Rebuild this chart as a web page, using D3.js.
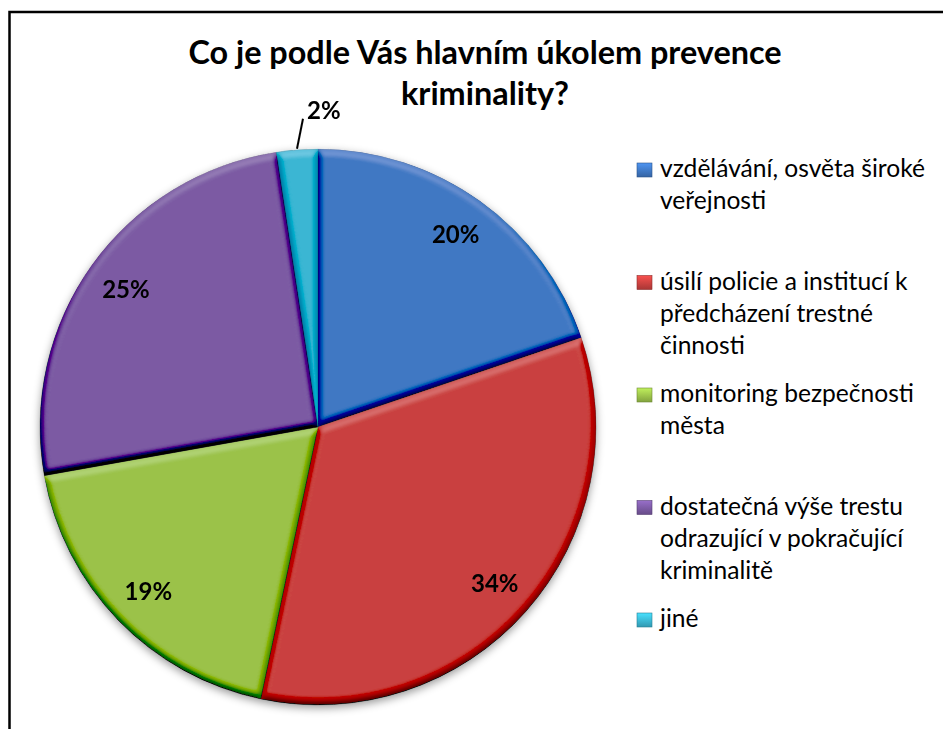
<!DOCTYPE html>
<html>
<head>
<meta charset="utf-8">
<script src="https://cdn.jsdelivr.net/npm/d3@7"></script>
<style>
  body { margin: 0; background: #fff; }
  svg { display: block; font-family: Lato, "Open Sans", sans-serif; }
</style>
</head>
<body>
<div id="chart"></div>
<script>
var width = 943;
var height = 729;

// data
var categories = [
  ["vzdělávání, osvěta široké", "veřejnosti"],
  ["úsilí policie a institucí k", "předcházení trestné", "činnosti"],
  ["monitoring bezpečnosti", "města"],
  ["dostatečná výše trestu", "odrazující v pokračující", "kriminalitě"],
  ["jiné"]
];
var values = [19.8, 33.5, 18.9, 25.4, 2.4];
var labels = ["20%", "34%", "19%", "25%", "2%"];
var colors = ["#3f78c3", "#c9413f", "#9bc24a", "#7b5aa3", "#3bb6d3"];
var titleLines = ["Co je podle Vás hlavním úkolem prevence", "kriminality?"];

var cx = 318, cy = 427, R = 278;

var svg = d3.select("#chart").append("svg")
    .attr("width", width)
    .attr("height", height);

var defs = svg.append("defs");

// bevel look of the office pie
var bevel = defs.append("filter").attr("id", "bevel")
    .attr("x", "-5%").attr("y", "-5%").attr("width", "110%").attr("height", "110%");
bevel.append("feGaussianBlur").attr("in", "SourceAlpha").attr("stdDeviation", 3.5).attr("result", "blur");
bevel.append("feDiffuseLighting").attr("in", "blur").attr("surfaceScale", 5)
    .attr("diffuseConstant", 1).attr("lighting-color", "#fff").attr("result", "light")
  .append("feDistantLight").attr("azimuth", 270).attr("elevation", 60);
bevel.append("feComposite").attr("in", "SourceGraphic").attr("in2", "light")
    .attr("operator", "arithmetic").attr("k1", 0).attr("k2", 1).attr("k3", 0.75).attr("k4", -0.65)
    .attr("result", "lit");
bevel.append("feComposite").attr("in", "lit").attr("in2", "SourceAlpha").attr("operator", "in");

var shadow = defs.append("filter").attr("id", "shadow")
    .attr("x", "-10%").attr("y", "-10%").attr("width", "120%").attr("height", "120%");
shadow.append("feDropShadow").attr("dx", 0).attr("dy", 3).attr("stdDeviation", 4)
    .attr("flood-color", "#000").attr("flood-opacity", 0.4);

// legend key gradients
colors.forEach(function(c, i) {
  var g = defs.append("linearGradient").attr("id", "key" + i)
      .attr("x1", 0).attr("y1", 0).attr("x2", 0).attr("y2", 1);
  g.append("stop").attr("offset", "0%").attr("stop-color", d3.color(c).brighter(0.6));
  g.append("stop").attr("offset", "100%").attr("stop-color", d3.color(c).darker(0.5));
});

// frame (runs off the right and bottom)
svg.append("rect")
    .attr("x", 9.5).attr("y", 12)
    .attr("width", 1000).attr("height", 1000)
    .attr("fill", "none")
    .attr("stroke", "#000")
    .attr("stroke-width", 2.5);

// title
svg.append("g").selectAll("text")
    .data(titleLines)
    .enter()
    .append("text")
    .attr("x", 485)
    .attr("y", function(d, i) { return 64 + i * 41; })
    .attr("text-anchor", "middle")
    .attr("font-size", "32.4px")
    .attr("font-weight", "bold")
    .attr("fill", "#000")
    .text(function(d) { return d; });

// pie
var pie = d3.pie().sort(null).value(function(d) { return d; });
var arcs = pie(values);
var arc = d3.arc().innerRadius(0).outerRadius(R);
var labelArc = d3.arc().innerRadius(R * 0.85).outerRadius(R * 0.85);

var pieG = svg.append("g")
    .attr("transform", "translate(" + cx + "," + cy + ")")
    .attr("filter", "url(#shadow)");

pieG.selectAll("path")
    .data(arcs)
    .enter()
    .append("path")
    .attr("d", arc)
    .attr("fill", function(d, i) { return colors[i]; })
    .attr("stroke", function(d, i) { return d3.color(colors[i]).darker(0.6); })
    .attr("stroke-width", 0.6)
    .attr("filter", "url(#bevel)");

// data labels
var lab = svg.append("g").attr("transform", "translate(" + cx + "," + cy + ")");
arcs.forEach(function(d, i) {
  if (values[i] >= 5) {
    var p = labelArc.centroid(d);
    lab.append("text")
        .attr("x", p[0]).attr("y", p[1])
        .attr("dy", "0.35em")
        .attr("text-anchor", "middle")
        .attr("font-size", "24px")
        .attr("font-weight", "bold")
        .text(labels[i]);
  } else {
    // small slice: label outside with a leader line
    var a = (d.startAngle + d.endAngle) / 2;
    var x0 = Math.sin(a) * (R + 1), y0 = -Math.cos(a) * (R + 1);
    var x1 = x0 + 6, y1 = y0 - 30;
    lab.append("line")
        .attr("x1", x0).attr("y1", y0)
        .attr("x2", x1).attr("y2", y1)
        .attr("stroke", "#000").attr("stroke-width", 2);
    lab.append("text")
        .attr("x", x1 + 4).attr("y", y1)
        .attr("text-anchor", "start")
        .attr("font-size", "24px")
        .attr("font-weight", "bold")
        .text(labels[i]);
  }
});

// legend
var legend = svg.append("g");
var items = legend.selectAll("g")
    .data(categories)
    .enter()
    .append("g")
    .attr("transform", function(d, i) { return "translate(637," + (177 + i * 112.5) + ")"; });

items.append("rect")
    .attr("x", 0).attr("y", -14)
    .attr("width", 15).attr("height", 14)
    .attr("fill", function(d, i) { return "url(#key" + i + ")"; })
    .attr("stroke", function(d, i) { return d3.color(colors[i]).darker(1); })
    .attr("stroke-width", 0.6);

items.each(function(lines) {
  d3.select(this).selectAll("text")
      .data(lines)
      .enter()
      .append("text")
      .attr("x", 23)
      .attr("y", function(d, j) { return j * 32; })
      .attr("font-size", "24.6px")
      .attr("fill", "#000")
      .text(function(d) { return d; });
});
</script>
</body>
</html>
